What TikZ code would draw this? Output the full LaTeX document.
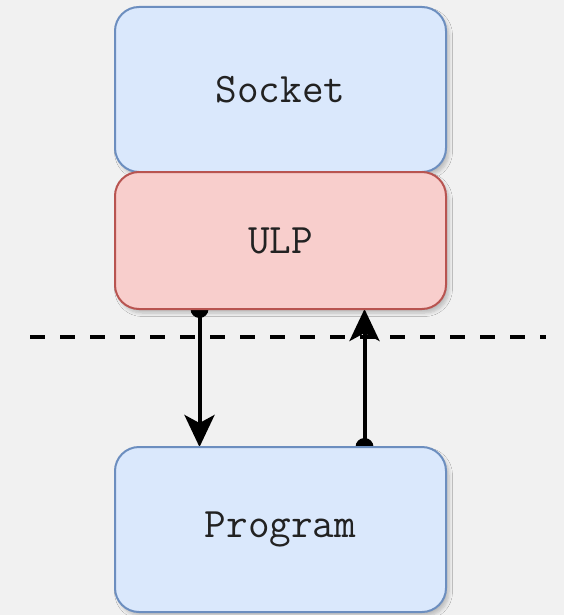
\documentclass[tikz,border=0pt]{standalone}
\usepackage{fontspec}
\usetikzlibrary{arrows.meta,positioning,backgrounds,shadows.blur}

\definecolor{bluefill}{HTML}{DAE8FC}
\definecolor{blueline}{HTML}{6C8EBF}
\definecolor{redfill}{HTML}{F8CECC}
\definecolor{redline}{HTML}{B85450}
\definecolor{paper}{RGB}{241,241,241}
\definecolor{ink}{RGB}{34,34,34}

\tikzset{
    layer/.style={rounded corners=12pt, line width=1pt, outer sep=0pt,
        minimum width=165.5pt, text=ink,
        font=\ttfamily\fontsize{21}{22}\selectfont,
        blur shadow={shadow xshift=1.5pt, shadow yshift=-2pt,
            shadow opacity=22, shadow blur steps=6}},
    bluebox/.style={layer, fill=bluefill, draw=blueline},
    redbox/.style={layer, fill=redfill, draw=redline},
    flow/.style={black, line width=2pt,
        -{Stealth[length=16pt, width=15pt, inset=4pt]}},
}

\begin{document}
\begin{tikzpicture}[x=0.5pt, y=-0.5pt]
    \useasboundingbox (0,0) rectangle (564,615);

    % the stack
    \node[bluebox, minimum height=82.5pt] (socket) at (280.5,89.5) {Socket};
    \node[redbox, minimum height=68.5pt, below=0pt of socket] (ulp) {ULP};
    \node[bluebox, minimum height=82.5pt, below=69pt of ulp] (prog) {Program};

    \coordinate (cutl) at (30,337);
    \coordinate (cutr) at (546,337);

    \coordinate (downtop) at ([xshift=-40.5pt]ulp.south);
    \coordinate (downbot) at (downtop |- prog.north);
    \coordinate (upbot) at ([xshift=42pt]prog.north);
    \coordinate (uptop) at (upbot |- ulp.south);

    \begin{scope}[on background layer]
        \fill[paper] (0,0) rectangle (564,615);
        \draw[black, line width=2pt, dash pattern=on 7.5pt off 7.5pt] (cutl) -- (cutr);
        % calls go down, returns come back up
        \fill[black] (downtop) circle (4.5pt);
        \draw[flow] (downtop) -- (downbot);
        \fill[black] (upbot) circle (4.5pt);
        \draw[flow] (upbot) -- (uptop);
    \end{scope}
\end{tikzpicture}
\end{document}
